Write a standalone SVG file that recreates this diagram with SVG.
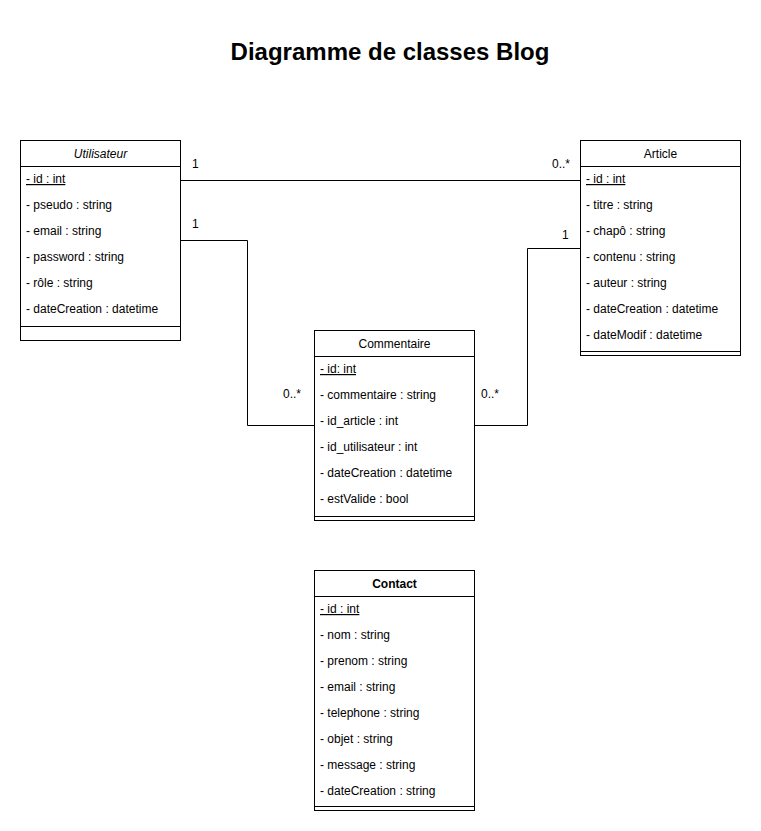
<svg xmlns="http://www.w3.org/2000/svg" width="761" height="831" viewBox="0 0 761 831">
<style>
text{font-family:"Liberation Sans",Arial,Helvetica,sans-serif;font-size:12px;fill:#000}
.box{fill:#fff;stroke:#000;stroke-width:1}
.ln{fill:none;stroke:#000;stroke-width:1}
.hd{text-anchor:middle}
.u{text-decoration:underline}
.title{font-size:24px;font-weight:bold;text-anchor:middle}
.m{fill:#000}
</style>
<rect width="761" height="831" fill="#fff"/>
<text class="title" x="390" y="60">Diagramme de classes Blog</text>

<g id="connectors">
<path class="ln" d="M180.5 180.5 H580.5"/>
<path class="ln" d="M180.5 240.5 H247.5 V425.5 H314.5"/>
<path class="ln" d="M580.5 248.5 H527.5 V425.5 H474.5"/>
<text x="192" y="168">1</text>
<text x="552" y="168">0..*</text>
<text x="192" y="228">1</text>
<text x="283" y="398">0..*</text>
<text x="562" y="239">1</text>
<text x="481" y="398">0..*</text>
</g>

<g id="Utilisateur">
<rect class="box" x="20.5" y="140.5" width="160" height="200"/>
<path class="ln" d="M20.5 166.5 H180.5 M20.5 326.5 H180.5"/>
<text class="hd" x="100.5" y="158" font-style="italic">Utilisateur</text>
<text class="u" x="26" y="183">- id : int</text>
<text x="26" y="209">- pseudo : string</text>
<text x="26" y="235">- email : string</text>
<text x="26" y="261">- password : string</text>
<text x="26" y="287">- rôle : string</text>
<text x="26" y="313">- dateCreation : datetime</text>
</g>

<g id="Article">
<rect class="box" x="580.5" y="140.5" width="160" height="215"/>
<path class="ln" d="M580.5 166.5 H740.5 M580.5 351.5 H740.5"/>
<text class="hd" x="660.5" y="158">Article</text>
<text class="u" x="586" y="183">- id : int</text>
<text x="586" y="209">- titre : string</text>
<text x="586" y="235">- chapô : string</text>
<text x="586" y="261">- contenu : string</text>
<text x="586" y="287">- auteur : string</text>
<text x="586" y="313">- dateCreation : datetime</text>
<text x="586" y="339">- dateModif : datetime</text>
</g>

<g id="Commentaire">
<rect class="box" x="314.5" y="330.5" width="160" height="190"/>
<path class="ln" d="M314.5 356.5 H474.5 M314.5 516.5 H474.5"/>
<text class="hd" x="394.5" y="348">Commentaire</text>
<text class="u" x="320" y="373">- id: int</text>
<text x="320" y="399">- commentaire : string</text>
<text x="320" y="425">- id_article : int</text>
<text x="320" y="451">- id_utilisateur : int</text>
<text x="320" y="477">- dateCreation : datetime</text>
<text x="320" y="503">- estValide : bool</text>
</g>

<g id="Contact">
<rect class="box" x="314.5" y="570.5" width="160" height="240"/>
<path class="ln" d="M314.5 596.5 H474.5 M314.5 806.5 H474.5"/>
<text class="hd" x="394.5" y="588" font-weight="bold">Contact</text>
<text class="u" x="320" y="613">- id : int</text>
<text x="320" y="639">- nom : string</text>
<text x="320" y="665">- prenom : string</text>
<text x="320" y="691">- email : string</text>
<text x="320" y="717">- telephone : string</text>
<text x="320" y="743">- objet : string</text>
<text x="320" y="769">- message : string</text>
<text x="320" y="795">- dateCreation : string</text>
</g>
</svg>
